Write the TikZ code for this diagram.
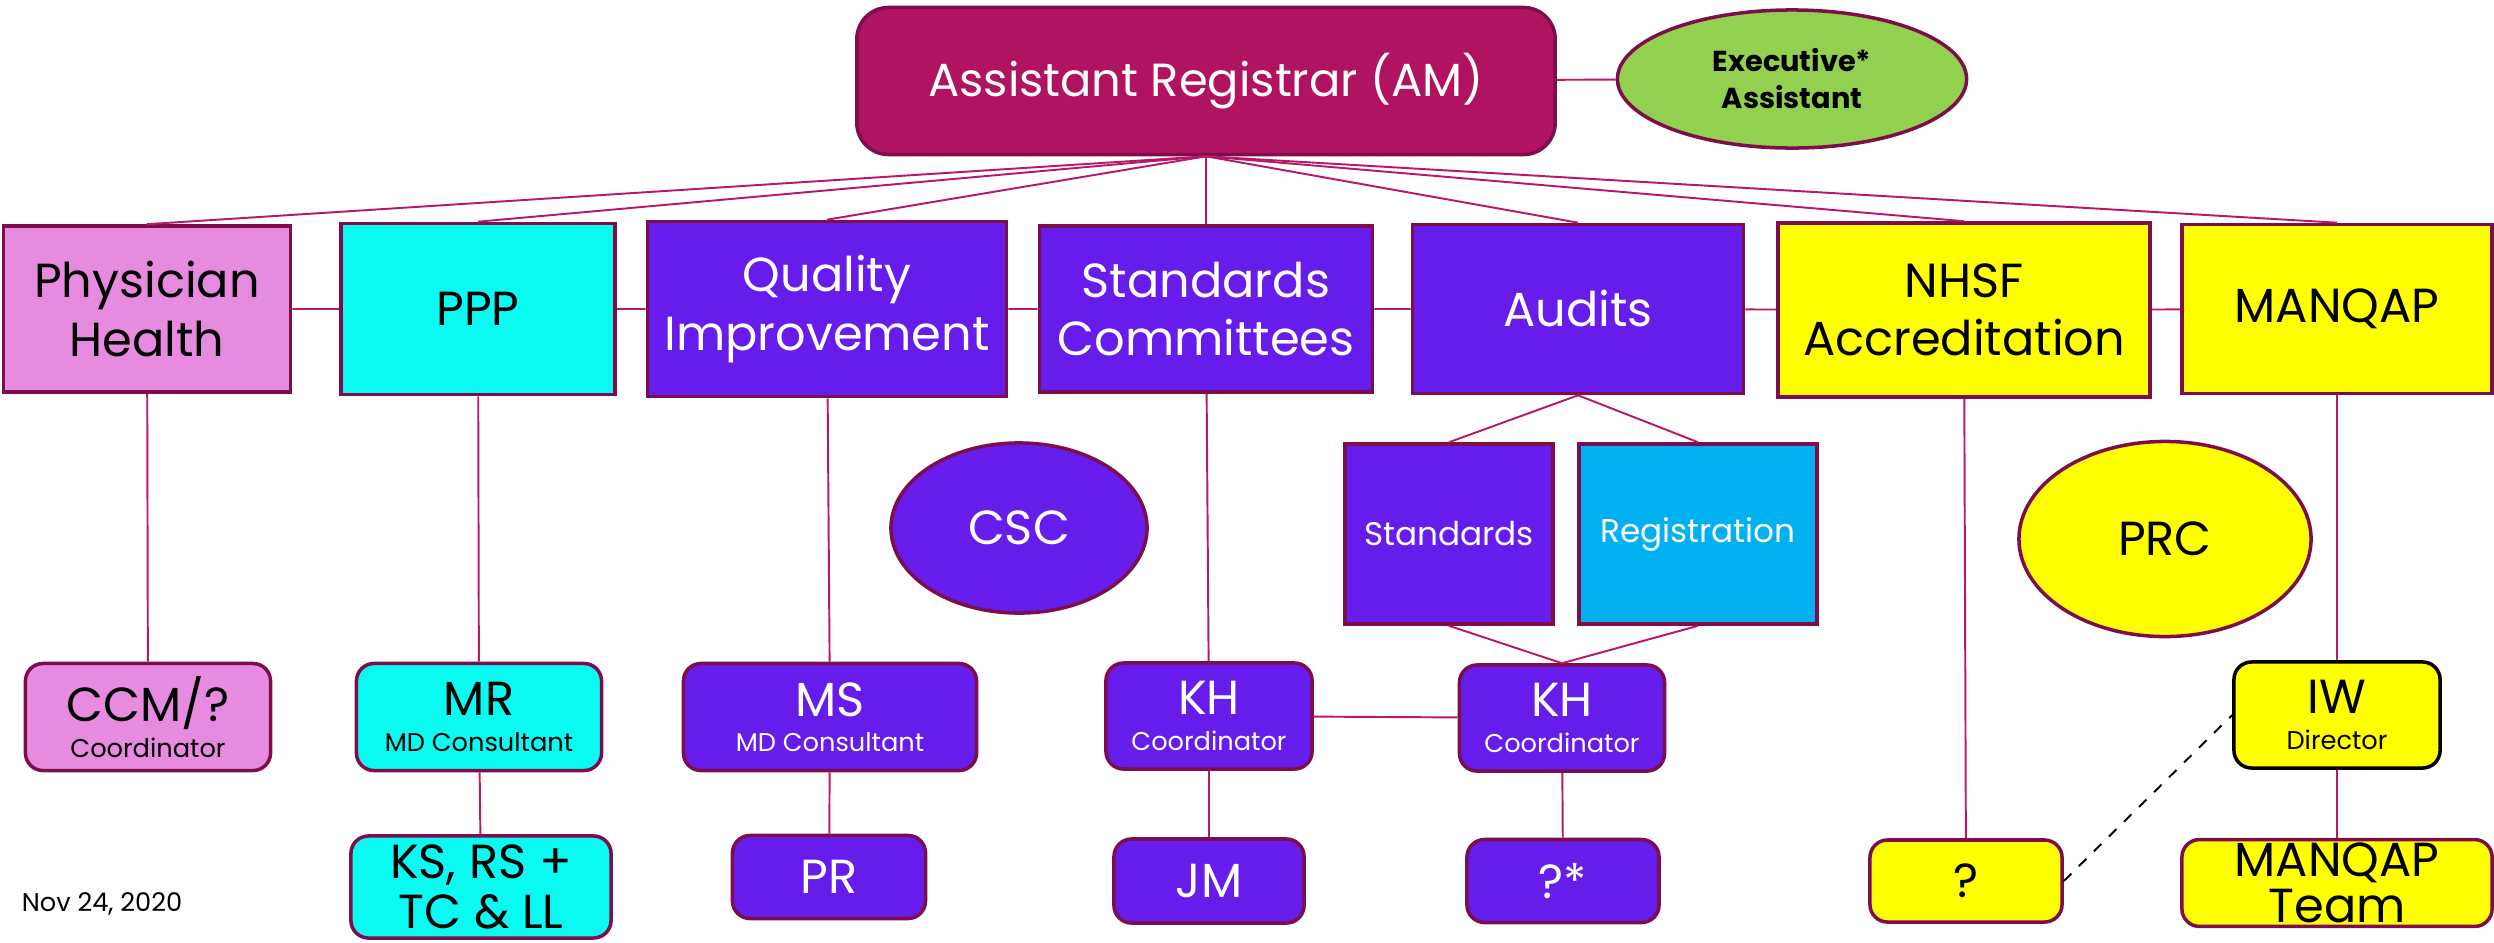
\documentclass[tikz,border=0pt]{standalone}
\usepackage{fontspec}
\setmainfont{Poppins}
\usepackage{xcolor}
\usepackage{tikz}
\usetikzlibrary{shapes.geometric}
\definecolor{regmag}{HTML}{B01360}
\definecolor{edge}{HTML}{7D0E4B}
\definecolor{wire}{HTML}{B8176A}
\definecolor{phpink}{HTML}{E68BE0}
\definecolor{pppcyan}{HTML}{08FAF0}
\definecolor{violet}{HTML}{661CEB}
\definecolor{lemon}{HTML}{FFFF00}
\definecolor{skyblue}{HTML}{00B0F0}
\definecolor{leaf}{HTML}{92D050}
\newcommand\namefont{\fontsize{13.6}{16.5}\selectfont}
\newcommand\rolefont{\fontsize{7.3}{9}\selectfont}
\newcommand\subfont{\fontsize{9.3}{11}\selectfont}

\begin{document}
\begin{tikzpicture}[
  x=0.01cm, y=-0.01cm,
  dim/.style 2 args={minimum width=#1cm, minimum height=#2cm},
  box/.style={rectangle, draw=edge, line width=1pt, align=center,
              inner sep=1pt, font=\namefont},
  unit/.style={box, fill=violet, text=white},
  person/.style={box, rounded corners=5pt},
  oval/.style={ellipse, draw=edge, line width=1pt, inner sep=0pt,
               align=center, font=\namefont},
  link/.style={wire, line width=0.55pt},
]
\useasboundingbox (0,0) rectangle (2494,942);

%% Top
\node[box, rounded corners=9pt, fill=regmag, text=white, dim={6.98}{1.47},
      font=\fontsize{13.2}{16}\selectfont]
  (ar) at (1206,81) {Assistant Registrar (AM)};
\node[oval, fill=leaf, dim={3.49}{1.38}, font=\fontsize{8.2}{10.5}\selectfont\bfseries]
  (exec) at (1792,79) {Executive*\\Assistant};

%% Row 1 -- departments
\node[box, fill=phpink, dim={2.87}{1.66}] (ph)   at (147,309) {Physician\\Health};
\node[box, fill=pppcyan, dim={2.74}{1.71}] (ppp) at (478,309) {PPP};
\node[unit, dim={3.59}{1.75}] (qi)  at (827,309) {Quality\\Improvement};
\node[unit, dim={3.33}{1.66}] (sc)  at (1206,309) {Standards\\Committees};
\node[unit, dim={3.31}{1.69}] (aud) at (1578,309) {Audits};
\node[box, fill=lemon, dim={3.72}{1.74}] (nhsf)  at (1964,310) {NHSF\\Accreditation};
\node[box, fill=lemon, dim={3.10}{1.69}] (manq)  at (2337,309) {MANQAP};

%% Row 2 -- audit branches and committees
\node[unit, font=\subfont, dim={2.08}{1.80}] (astd) at (1449,534) {Standards};
\node[box, fill=skyblue, text=white, font=\subfont, dim={2.38}{1.80}] (areg) at (1698,534) {Registration};
\node[oval, fill=violet, text=white, dim={2.56}{1.70}] (csc) at (1019,528) {CSC};
\node[oval, fill=lemon, dim={2.92}{1.95}] (prc) at (2165,539) {PRC};

%% Row 3 -- leads
\node[person, fill=phpink, dim={2.45}{1.07}] (ccm) at (148,717)
  {CCM/?\\[-6.5pt]{\rolefont Coordinator}};
\node[person, fill=pppcyan, dim={2.45}{1.07}] (mr) at (479,717)
  {MR\\[-6.5pt]{\rolefont MD Consultant}};
\node[person, unit, dim={2.93}{1.07}] (ms) at (830,717)
  {MS\\[-6.5pt]{\rolefont MD Consultant}};
\node[person, unit, dim={2.06}{1.06}] (kha) at (1209,716)
  {KH\\[-6.5pt]{\rolefont Coordinator}};
\node[person, unit, dim={2.05}{1.06}] (khb) at (1562,718)
  {KH\\[-6.5pt]{\rolefont Coordinator}};
\node[person, fill=lemon, draw=black, dim={2.06}{1.06}] (iw) at (2337,715)
  {IW\\[-6.5pt]{\rolefont Director}};

%% Row 4 -- staff
\node[person, fill=pppcyan, dim={2.60}{1.02}, font=\fontsize{13.6}{14}\selectfont]
  (ks) at (481,887) {KS, RS +\\TC \& LL};
\node[person, unit, dim={1.93}{0.83}] (pr)  at (829,877) {PR};
\node[person, unit, dim={1.90}{0.84}] (jm)  at (1209,881) {JM};
\node[person, unit, dim={1.92}{0.83}] (qs)  at (1563,881) {?*};
\node[person, fill=lemon, dim={1.92}{0.82}] (qn) at (1966,881) {?};
\node[person, fill=lemon, dim={3.10}{0.82}, font=\fontsize{13.6}{13}\selectfont]
  (mqt) at (2337,883) {MANQAP\\Team};

\node[font=\rolefont] (date) at (102,904) {Nov 24, 2020};

%% Connectors
\draw[link] (ar) -- (exec);
\foreach \d in {ph, ppp, qi, sc, aud, nhsf, manq}
  \draw[link] (ar.south) -- (\d.north);
\draw[link] (ph) -- (ppp) -- (qi) -- (sc) -- (aud) -- (nhsf) -- (manq);

\draw[link] (aud.south) -- (astd.north);
\draw[link] (aud.south) -- (areg.north);
\draw[link] (astd.south) -- (khb.north);
\draw[link] (areg.south) -- (khb.north);

\draw[link] (ph) -- (ccm);
\draw[link] (ppp) -- (mr);
\draw[link] (mr) -- (ks);
\draw[link] (qi) -- (ms);
\draw[link] (ms) -- (pr);
\draw[link] (sc) -- (kha);
\draw[link] (kha) -- (jm);
\draw[link] (kha) -- (khb);
\draw[link] (khb) -- (qs);
\draw[link] (nhsf) -- (qn);
\draw[link] (manq) -- (iw);
\draw[link] (iw) -- (mqt);
\draw[dashed, line width=0.55pt] (qn.east) -- (iw.west);

\end{tikzpicture}
\end{document}
